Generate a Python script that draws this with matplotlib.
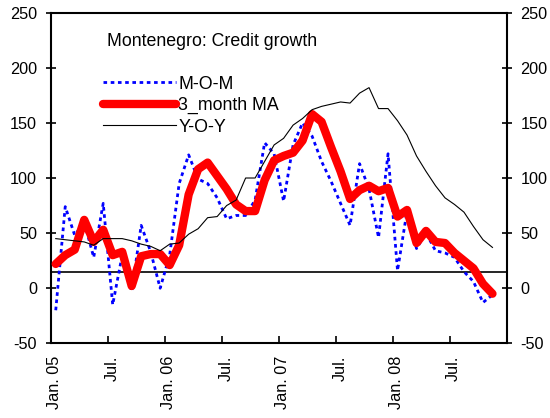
import numpy as np
import matplotlib.pyplot as plt
import matplotlib.transforms as mtransforms

plt.rcParams['font.family'] = ['Liberation Sans', 'DejaVu Sans']
plt.rcParams['axes.unicode_minus'] = False

# datos mensuales, ene 2005 - nov 2008
mom = [-20, 74, 48, 60, 28, 77, -15, 30, -3, 57, 33, 0,
       30, 95, 121, 99, 95, 82, 63, 66, 66, 80, 132, 122,
       79, 130, 150, 138, 115, 97, 77, 57, 113, 90, 46, 122,
       16, 70, 36, 50, 34, 32, 28, 15, 6, -13, -6]
ma3 = [22, 30, 35, 62, 42, 53, 30, 33, 2, 29, 31, 31,
       21, 39, 85, 108, 114, 102, 90, 76, 70, 70, 98, 116,
       120, 123, 134, 158, 151, 128, 106, 81, 89, 93, 88, 91,
       65, 71, 41, 52, 42, 41, 32, 25, 18, 4, -5]
yoy = [45, 44, 43, 42, 39, 45, 45, 45, 43, 40, 38, 34,
       40, 41, 49, 54, 64, 65, 75, 80, 100, 100, 115, 130,
       136, 148, 154, 162, 165, 167, 169, 168, 177, 182, 163, 163,
       152, 139, 120, 106, 93, 82, 76, 69, 56, 44, 37]
tick_labels = ['Jan. 05', 'Jul.', 'Jan. 06', 'Jul.', 'Jan. 07', 'Jul.', 'Jan. 08', 'Jul.']
ref_level = 15

x = np.arange(len(ma3)) + 0.5  # puntos en el centro de cada mes

fig = plt.figure(figsize=(5.5, 4.18), dpi=100)
ax = fig.add_axes([0.0927, 0.1787, 0.8286, 0.7909])

ax.axhline(ref_level, color='black', lw=1.2, zorder=1)
l1, = ax.plot(x, mom, color='blue', lw=2, linestyle=(0, (1.3, 1.3)), label='M-O-M', zorder=2)
l2, = ax.plot(x, ma3, color='red', lw=6, solid_joinstyle='round', solid_capstyle='round',
              label='3_month MA', zorder=3)
l3, = ax.plot(x, yoy, color='black', lw=0.8, label='Y-O-Y', zorder=4)

ax.set_xlim(0, 48)
ax.set_ylim(-50, 250)
ax.set_xticks(np.arange(0, 48, 6))
ax.set_xticklabels(tick_labels, rotation=90, fontsize=11.7)
ax.set_yticks(range(-50, 251, 50))
ax.tick_params(axis='y', direction='inout', length=7.2, width=1.2, labelsize=11.7,
               right=True, labelright=True, pad=6.4)
ax.tick_params(axis='x', direction='in', length=5, width=1.2, pad=9)
for s in ax.spines.values():
    s.set_linewidth(1.5)

# etiquetas del eje x un poco a la derecha, como en el original
offset = mtransforms.ScaledTranslation(4 / 100, 0, fig.dpi_scale_trans)
for lab in ax.get_xticklabels():
    lab.set_transform(lab.get_transform() + offset)

ax.text(0.123, 0.912, 'Montenegro: Credit growth', transform=ax.transAxes,
        fontsize=12.8, va='center', ha='left')
ax.legend(handles=[l1, l2, l3], loc='upper left', bbox_to_anchor=(0.114, 0.81),
          frameon=False, fontsize=12.8, handlelength=4.1, handletextpad=0.15,
          labelspacing=0.25, borderpad=0, borderaxespad=0)

fig.savefig('out.png', dpi=100)
